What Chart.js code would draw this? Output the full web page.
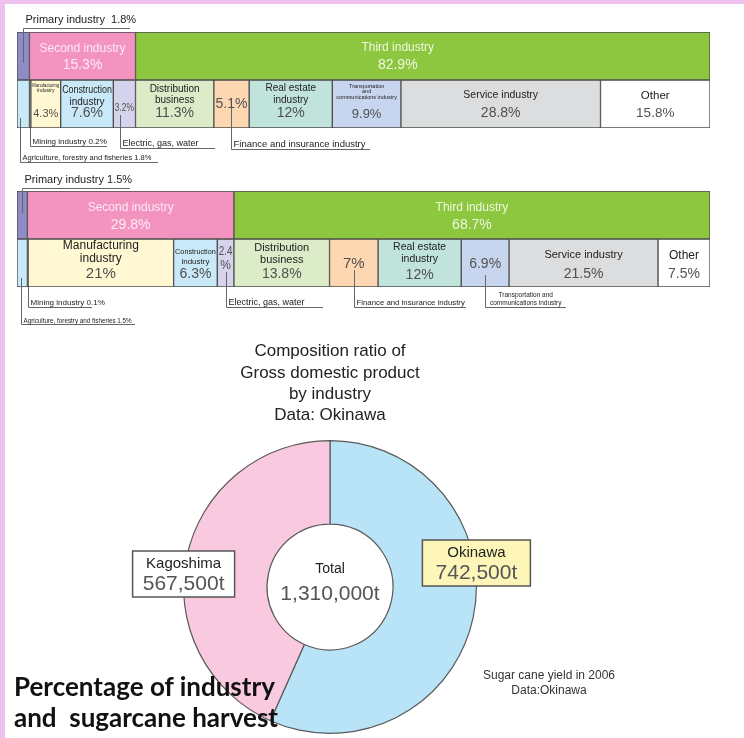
<!DOCTYPE html>
<html>
<head>
<meta charset="utf-8">
<title>Percentage of industry and sugarcane harvest</title>
<script src="https://cdn.jsdelivr.net/npm/chart.js"></script>
<style>
html,body{margin:0;padding:0;background:#fff;}
body{position:relative;width:744px;height:738px;overflow:hidden;font-family:"Liberation Sans",Arial,sans-serif;}
#edgeLeft{position:absolute;left:0;top:0;width:5px;height:738px;background:#edc0ee;}
#edgeTop{position:absolute;left:0;top:0;width:744px;height:4px;background:#edc0ee;}
canvas{position:absolute;left:0;}
#gdp1{top:0;}
#gdp2{top:165px;}
#cane{top:330px;}
#caption{position:absolute;left:14px;top:671px;font:bold 26px/31px Lato,"Open Sans",sans-serif;color:#111;z-index:2;white-space:pre;}
</style>
</head>
<body>
<div id="edgeLeft"></div><div id="edgeTop"></div>
<canvas id="gdp1" width="744" height="170"></canvas>
<canvas id="gdp2" width="744" height="165"></canvas>
<canvas id="cane" width="744" height="408"></canvas>
<div id="caption">Percentage of industry
and  sugarcane harvest</div>
<script>
// GDP composition by industry (%)
const sectorNames = ["Primary industry", "Second industry", "Third industry"];
const sectorShare1 = [1.8, 15.3, 82.9];
const sectorShare2 = [1.5, 29.8, 68.7];

const branchNames = ["Agriculture, forestry and fisheries", "Mining industry", "Manufacturing industry",
  "Construction industry", "Electric, gas, water", "Distribution business",
  "Finance and insurance industry", "Real estate industry",
  "Transportation and communications industry", "Service industry", "Other"];
const branchShare1 = [1.8, 0.2, 4.3, 7.6, 3.2, 11.3, 5.1, 12, 9.9, 28.8, 15.8];
const branchShare2 = [1.5, 0.1, 21, 6.3, 2.4, 13.8, 7, 12, 6.9, 21.5, 7.5];

// sugar cane yield in 2006 (t)
const caneRegions = ["Okinawa", "Kagoshima"];
const caneYield = [742500, 567500];

const sectorColors = ["#8f8bc6", "#f394c0", "#8dc63f"];
const branchColors = ["#c7e9f8", "#3a3a3a", "#fff8d2", "#c9e8f8", "#d6d3ec", "#dcebc8",
  "#fdd6b2", "#c0e4dc", "#c7d6ee", "#dcdddf", "#ffffff"];
const caneColors = ["#b9e3f7", "#f8c9df"];

const FONT = '"Liberation Sans", Arial, sans-serif';

// text inside boxes: [text, size, dy from box top], val: [size, dy]
const text1 = {
  sector: [
    null,
    {lines: [["Second industry", 12, 17]], val: [14, 33], color: "#fde9f2"},
    {lines: [["Third industry", 12, 16]], val: [14, 33], color: "#eef7df", dx: -25}
  ],
  branch: [
    null, null,
    {lines: [["Manufacturing", 5, 6], ["industry", 5, 11]], val: [11, 34]},
    {lines: [["Construction", 10, 10], ["industry", 10, 22]], val: [14, 33]},
    {lines: [], val: [11, 28]},
    {lines: [["Distribution", 10, 9], ["business", 10, 20]], val: [14, 33]},
    {lines: [], val: [14, 24]},
    {lines: [["Real estate", 10, 8], ["industry", 10, 20]], val: [14, 33]},
    {lines: [["Transportation", 5.5, 6], ["and", 5.5, 11], ["communications industry", 5.5, 17]], val: [13, 34]},
    {lines: [["Service industry", 10.5, 15]], val: [14, 33]},
    {lines: [["Other", 11.5, 16]], val: [13.5, 33]}
  ],
  callouts: [
    {row: 0, seg: 0, y1: 63, y2: 28, x2: 130, size: 11, ty: -5, lines: [sectorNames[0] + "  " + sectorShare1[0] + "%"]},
    {row: 1, seg: 1, y1: 128, y2: 146, x2: 107, size: 8, ty: -2, lines: [branchNames[1] + " " + branchShare1[1] + "%"]},
    {row: 1, seg: 0, dx: -3, y1: 118, y2: 162, x2: 158, size: 7.5, ty: -2, lines: [branchNames[0] + " " + branchShare1[0] + "%"]},
    {row: 1, seg: 4, dx: -4, y1: 115, y2: 148, x2: 215, size: 9, ty: -2, lines: [branchNames[4]]},
    {row: 1, seg: 6, y1: 108, y2: 149, x2: 370, size: 9.5, ty: -2, lines: [branchNames[6]]}
  ]
};

const text2 = {
  sector: [
    null,
    {lines: [["Second industry", 12, 17]], val: [14, 34], color: "#fde9f2"},
    {lines: [["Third industry", 12, 17]], val: [14, 34], color: "#eef7df"}
  ],
  branch: [
    null, null,
    {lines: [["Manufacturing", 12, 7], ["industry", 12, 20]], val: [15, 35]},
    {lines: [["Construction", 8, 13], ["industry", 8, 23]], val: [14, 35]},
    {lines: [], val: [12, 13], split: 27},
    {lines: [["Distribution", 11, 9], ["business", 11, 21]], val: [14, 35]},
    {lines: [], val: [15, 25]},
    {lines: [["Real estate", 10.5, 8], ["industry", 10.5, 20]], val: [14, 36]},
    {lines: [], val: [14, 25]},
    {lines: [["Service industry", 11, 16]], val: [14, 35]},
    {lines: [["Other", 12, 17]], val: [14, 35]}
  ],
  callouts: [
    {row: 0, seg: 0, y1: 48, y2: 23, x2: 130, size: 11, ty: -5, lines: [sectorNames[0] + " " + sectorShare2[0] + "%"]},
    {row: 1, seg: 1, y1: 122, y2: 142, x2: 92, size: 8, ty: -2, lines: [branchNames[1] + " " + branchShare2[1] + "%"]},
    {row: 1, seg: 0, dx: -1, y1: 113, y2: 159, x2: 135, size: 6.3, ty: -1, lines: [branchNames[0] + " " + branchShare2[0] + "%"]},
    {row: 1, seg: 4, y1: 107, y2: 142, x2: 323, size: 9, ty: -2, lines: [branchNames[4]]},
    {row: 1, seg: 6, y1: 105, y2: 142, x2: 466, size: 7.8, ty: -2, lines: [branchNames[6]]},
    {row: 1, seg: 8, y1: 110, y2: 142, x2: 566, size: 6.5, ty: -2, align: "center", gap: 8,
      lines: ["Transportation and", "communications industry"]}
  ]
};

function segBox(chart, di, row) {
  const el = chart.getDatasetMeta(di).data[row];
  const left = Math.min(el.x, el.base), right = Math.max(el.x, el.base);
  return {left: left, right: right, cx: (left + right) / 2, top: el.y - el.height / 2, w: right - left};
}

function drawBoxText(ctx, box, spec, value) {
  if (!spec) return;
  const x = box.cx + (spec.dx || 0);
  const maxW = Math.max(box.w - 3, 4);
  ctx.textAlign = "center";
  ctx.textBaseline = "middle";
  ctx.fillStyle = spec.color || "#222";
  spec.lines.forEach(l => {
    ctx.font = l[1] + "px " + FONT;
    ctx.fillText(l[0], x, box.top + l[2], maxW);
  });
  ctx.fillStyle = spec.color || "#505050";
  ctx.font = spec.val[0] + "px " + FONT;
  if (spec.split) {
    ctx.fillText(String(value), x, box.top + spec.val[1], maxW);
    ctx.fillText("%", x, box.top + spec.split, maxW);
  } else {
    ctx.fillText(value + "%", x, box.top + spec.val[1], maxW);
  }
}

function barChart(id, sectorVals, branchVals, txt) {
  const datasets = [];
  sectorVals.forEach((v, i) => datasets.push({label: sectorNames[i], data: [v, null], backgroundColor: sectorColors[i]}));
  branchVals.forEach((v, i) => datasets.push({label: branchNames[i], data: [null, v], backgroundColor: branchColors[i]}));

  const labels = {
    id: "segLabels",
    afterDatasetsDraw(chart) {
      const ctx = chart.ctx;
      ctx.save();
      sectorVals.forEach((v, i) => drawBoxText(ctx, segBox(chart, i, 0), txt.sector[i], v));
      branchVals.forEach((v, i) => drawBoxText(ctx, segBox(chart, i + 3, 1), txt.branch[i], v));

      txt.callouts.forEach(c => {
        const di = c.row === 0 ? c.seg : c.seg + 3;
        const box = segBox(chart, di, c.row);
        const lx = Math.round(box.cx + (c.dx || 0)) + 0.5;
        ctx.strokeStyle = "#666";
        ctx.lineWidth = 1;
        ctx.beginPath();
        ctx.moveTo(lx, c.y1);
        ctx.lineTo(lx, c.y2 + 0.5);
        ctx.lineTo(c.x2, c.y2 + 0.5);
        ctx.stroke();
        ctx.fillStyle = "#222";
        ctx.font = c.size + "px " + FONT;
        ctx.textBaseline = "alphabetic";
        const n = c.lines.length;
        c.lines.forEach((t, k) => {
          const y = c.y2 + c.ty - (n - 1 - k) * (c.gap || 0);
          if (c.align === "center") {
            ctx.textAlign = "center";
            ctx.fillText(t, (lx + c.x2) / 2, y);
          } else {
            ctx.textAlign = "left";
            ctx.fillText(t, lx + 2, y);
          }
        });
      });
      ctx.restore();
    }
  };

  const canvas = document.getElementById(id);
  return new Chart(canvas, {
    type: "bar",
    data: {labels: ["Sector", "Branch"], datasets: datasets},
    options: {
      indexAxis: "y",
      responsive: false,
      animation: false,
      layout: {padding: {left: 17, right: 34, top: txt.padTop, bottom: canvas.height - txt.padTop - 96}},
      datasets: {bar: {categoryPercentage: 1, barPercentage: 1, borderWidth: 1, borderColor: "#4d4d4d", borderSkipped: false}},
      scales: {
        x: {stacked: true, min: 0, max: 100, display: false},
        y: {stacked: true, display: false}
      },
      plugins: {legend: {display: false}, tooltip: {enabled: false}}
    },
    plugins: [labels]
  });
}

text1.padTop = 32;
text2.padTop = 26;
barChart("gdp1", sectorShare1, branchShare1, text1);
barChart("gdp2", sectorShare2, branchShare2, text2);

// doughnut
const caneBoxes = [
  {side: 1, dy: -24, w: 108, h: 46, fill: "#fef6b8"},
  {side: -1, dy: -13, w: 102, h: 46, fill: "#ffffff"}
];

const caneLabels = {
  id: "caneLabels",
  afterDatasetsDraw(chart) {
    const ctx = chart.ctx;
    const arc = chart.getDatasetMeta(0).data[0];
    const cx = arc.x, cy = arc.y, R = arc.outerRadius;
    const total = caneYield.reduce((a, b) => a + b, 0);
    ctx.save();
    ctx.textAlign = "center";
    ctx.textBaseline = "middle";
    ctx.fillStyle = "#222";
    ctx.font = "14px " + FONT;
    ctx.fillText("Total", cx, cy - 18);
    ctx.fillStyle = "#555";
    ctx.font = "21px " + FONT;
    ctx.fillText(total.toLocaleString("en-US") + "t", cx, cy + 7);

    caneBoxes.forEach((b, i) => {
      const bx = cx + b.side * R - b.w / 2;
      const by = cy + b.dy - b.h / 2;
      ctx.fillStyle = b.fill;
      ctx.fillRect(bx, by, b.w, b.h);
      ctx.strokeStyle = "#555";
      ctx.lineWidth = 1.5;
      ctx.strokeRect(bx, by, b.w, b.h);
      ctx.fillStyle = "#222";
      ctx.font = "15px " + FONT;
      ctx.fillText(caneRegions[i], bx + b.w / 2, by + 13);
      ctx.fillStyle = "#555";
      ctx.font = "21px " + FONT;
      ctx.fillText(caneYield[i].toLocaleString("en-US") + "t", bx + b.w / 2, by + 33, b.w - 6);
    });

    ctx.fillStyle = "#333";
    ctx.font = "12px " + FONT;
    ctx.fillText("Sugar cane yield in 2006", cx + 219, cy + 89);
    ctx.fillText("Data:Okinawa", cx + 219, cy + 104);
    ctx.restore();
  }
};

new Chart(document.getElementById("cane"), {
  type: "doughnut",
  data: {
    labels: caneRegions,
    datasets: [{data: caneYield, backgroundColor: caneColors, borderColor: "#5a5a5a", borderWidth: 1.2}]
  },
  options: {
    responsive: false,
    animation: false,
    cutout: "43%",
    layout: {padding: {left: 182, right: 266, top: 11, bottom: 4}},
    plugins: {
      legend: {display: false},
      tooltip: {enabled: false},
      title: {
        display: true,
        text: ["Composition ratio of", "Gross domestic product", "by industry", "Data: Okinawa"],
        color: "#222",
        font: {family: FONT, size: 17, weight: "normal", lineHeight: 1.25},
        padding: {top: 0, bottom: 14}
      }
    }
  },
  plugins: [caneLabels]
});
</script>
</body>
</html>
